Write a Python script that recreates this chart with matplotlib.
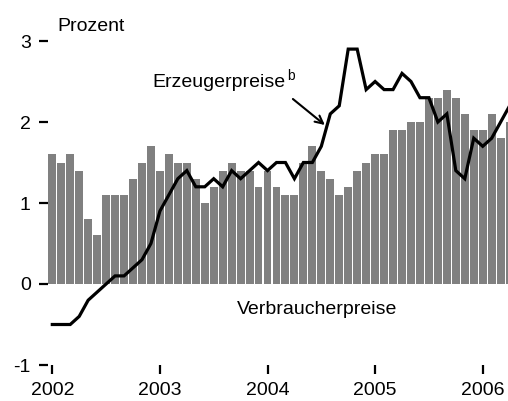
import numpy as np
import matplotlib
matplotlib.use("Agg")
import matplotlib.pyplot as plt
from matplotlib import font_manager

# Schrift: Arial-aehnlich
namen = {f.name for f in font_manager.fontManager.ttflist}
schrift = "Liberation Sans" if "Liberation Sans" in namen else "DejaVu Sans"
plt.rcParams["font.family"] = [schrift, "DejaVu Sans"]
plt.rcParams["axes.unicode_minus"] = False

# Monatswerte Jan 2002 - Apr 2006, Veraenderung gegenueber Vorjahr in Prozent
verbraucher = [1.6, 1.5, 1.6, 1.4, 0.8, 0.6, 1.1, 1.1, 1.1, 1.3, 1.5, 1.7,
               1.4, 1.6, 1.5, 1.5, 1.3, 1.0, 1.2, 1.4, 1.5, 1.4, 1.4, 1.2,
               1.4, 1.2, 1.1, 1.1, 1.5, 1.7, 1.4, 1.3, 1.1, 1.2, 1.4, 1.5,
               1.6, 1.6, 1.9, 1.9, 2.0, 2.0, 2.3, 2.3, 2.4, 2.3, 2.1, 1.9,
               1.9, 2.1, 1.8, 2.0]
erzeuger = [-0.5, -0.5, -0.5, -0.4, -0.2, -0.1, 0.0, 0.1, 0.1, 0.2, 0.3, 0.5,
            0.9, 1.1, 1.3, 1.4, 1.2, 1.2, 1.3, 1.2, 1.4, 1.3, 1.4, 1.5,
            1.4, 1.5, 1.5, 1.3, 1.5, 1.5, 1.7, 2.1, 2.2, 2.9, 2.9, 2.4,
            2.5, 2.4, 2.4, 2.6, 2.5, 2.3, 2.3, 2.0, 2.1, 1.4, 1.3, 1.8,
            1.7, 1.8, 2.0, 2.2]
start_jahr = 2002
jahre = [2002, 2003, 2004, 2005, 2006]
y_ticks = [-1, 0, 1, 2, 3]

monate = np.arange(len(verbraucher))
x = start_jahr + monate / 12.0

fig = plt.figure(figsize=(5.08, 4.01), dpi=100)
ax = fig.add_axes([48 / 508, 36 / 401, 460 / 508, 324 / 401])

ax.bar(x, verbraucher, width=0.88 / 12, color="#808080", linewidth=0, zorder=1)
ax.plot(x, erzeuger, color="black", linewidth=2.3, solid_joinstyle="miter", zorder=3)

ax.set_xlim(2001.96, 2006.235)
ax.set_ylim(-1, 3)
ax.set_xticks(jahre)
ax.set_xticklabels([str(j) for j in jahre])
ax.set_yticks(y_ticks)
ax.set_yticklabels([str(v) for v in y_ticks])
for s in ax.spines.values():
    s.set_visible(False)
ax.tick_params(axis="both", direction="out", length=6.5, width=1.6,
               labelsize=14, color="black")
ax.tick_params(axis="y", pad=6)
ax.tick_params(axis="x", pad=6)

ax.text(2002.044, 3.12, "Prozent", fontsize=14, ha="left", va="baseline")
ax.text(2002.926, 2.43, "Erzeugerpreise", fontsize=14, ha="left", va="baseline")
ax.text(2004.18, 2.52, "b", fontsize=10, ha="left", va="baseline")
ax.text(2003.717, -0.37, "Verbraucherpreise", fontsize=14, ha="left", va="baseline")
ax.annotate("", xy=(2004.533, 1.963), xytext=(2004.236, 2.284),
            arrowprops=dict(arrowstyle="->", color="black", lw=1.5,
                            mutation_scale=14, shrinkA=0, shrinkB=0))

fig.savefig("out.png", dpi=100)
